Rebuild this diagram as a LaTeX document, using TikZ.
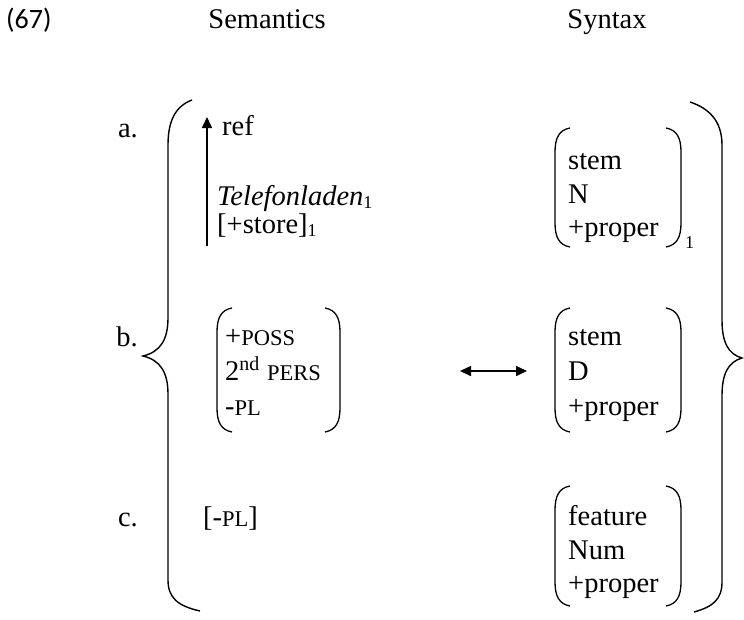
\documentclass[tikz,border=0pt]{standalone}
\usepackage{fontspec}
\setmainfont{Liberation Serif}
\newfontfamily\exfont{Carlito}
\usetikzlibrary{arrows.meta}
\newcommand\mylparen[3]{\draw[brk] (#1+15,#2) .. controls (#1+4,#2+2) and (#1,#2+10) .. (#1,#2+24) -- (#1,#3-24) .. controls (#1,#3-10) and (#1+4,#3-2) .. (#1+15,#3);}
\newcommand\myrparen[3]{\draw[brk] (#1-15,#2) .. controls (#1-4,#2+2) and (#1,#2+10) .. (#1,#2+24) -- (#1,#3-24) .. controls (#1,#3-10) and (#1-4,#3-2) .. (#1-15,#3);}
\newcommand\mysc[1]{{\fontsize{22.5}{24}\selectfont #1}}
\newcommand\mysub[1]{\raisebox{-3.5pt}{\fontsize{18}{20}\selectfont #1}}
\begin{document}
\begin{tikzpicture}[x=1pt,y=-1pt,
  txt/.style={anchor=base west,inner sep=0pt,font=\fontsize{28.5}{32}\selectfont},
  hdr/.style={anchor=base,inner sep=0pt,font=\fontsize{28.5}{32}\selectfont},
  brk/.style={line width=1.3pt},
  brace/.style={line width=1.4pt},
  arr/.style={line width=1.6pt,-{Triangle[length=11pt,width=10pt]}},
  darr/.style={line width=1.6pt,{Triangle[length=11pt,width=10pt]}-{Triangle[length=11pt,width=10pt]}}]
\useasboundingbox (0,0) rectangle (744,619);
% header
\node[anchor=base west,inner sep=0pt,font=\exfont\fontsize{28}{32}\selectfont] (num) at (6,28) {(67)};
\node[hdr] (sem) at (267,28) {Semantics};
\node[hdr] (syn) at (607,28) {Syntax};
% row labels
\node[txt,anchor=base east] (la) at (138,137) {a.};
\node[txt,anchor=base east] (lb) at (138,346) {b.};
\node[txt,anchor=base east] (lc) at (138,526) {c.};
% big braces
\draw[brace] (192,100) .. controls (176,106) and (168,120) .. (168,145) -- (168,318) .. controls (168,340) and (160,352) .. (143,356) .. controls (160,360) and (168,372) .. (168,394) -- (168,580) .. controls (168,598) and (178,606) .. (200,611);
\draw[brace] (690,102) .. controls (708,108) and (722,120) .. (722,145) -- (722,320) .. controls (722,342) and (728,354) .. (742,358) .. controls (728,362) and (722,374) .. (722,396) -- (722,582) .. controls (722,600) and (712,607) .. (694,612);
% row a semantics
\node[txt] (ref) at (222,135) {ref};
\node[txt] (tel) at (217,205) {\textit{Telefonladen}\mysub{1}};
\node[txt] (store) at (217,233) {[+store]\mysub{1}};
\coordinate (abot) at (207,246);
\coordinate (atop) at (207,117);
\draw[arr] (abot) -- (atop);
% row a syntax
\mylparen{555}{128}{247}
\myrparen{681}{128}{247}
\node[txt] (a1) at (568,169) {stem};
\node[txt] (a2) at (568,203) {N};
\node[txt] (a3) at (568,236) {+proper};
\node[anchor=base west,inner sep=0pt,font=\fontsize{18}{20}\selectfont] (aidx) at (685,248) {1};
% row b semantics
\mylparen{217}{308}{432}
\myrparen{340}{308}{432}
\node[txt] (b1) at (225,345) {+\mysc{POSS}};
\node[txt] (b2) at (225,380) {2\textsuperscript{nd} \mysc{PERS}};
\node[txt] (b3) at (225,415) {-\mysc{PL}};
% row b syntax
\mylparen{555}{308}{432}
\myrparen{681}{308}{432}
\node[txt] (s1) at (568,345) {stem};
\node[txt] (s2) at (568,380) {D};
\node[txt] (s3) at (568,415) {+proper};
\coordinate (dl) at (460,371);
\coordinate (dr) at (527,371);
\draw[darr] (dl) -- (dr);
% row c
\node[txt] (cpl) at (203,526) {[-\mysc{PL}]};
\mylparen{555}{486}{606}
\myrparen{681}{486}{606}
\node[txt] (c1) at (568,525) {feature};
\node[txt] (c2) at (568,559) {Num};
\node[txt] (c3) at (568,592) {+proper};
\end{tikzpicture}
\end{document}
